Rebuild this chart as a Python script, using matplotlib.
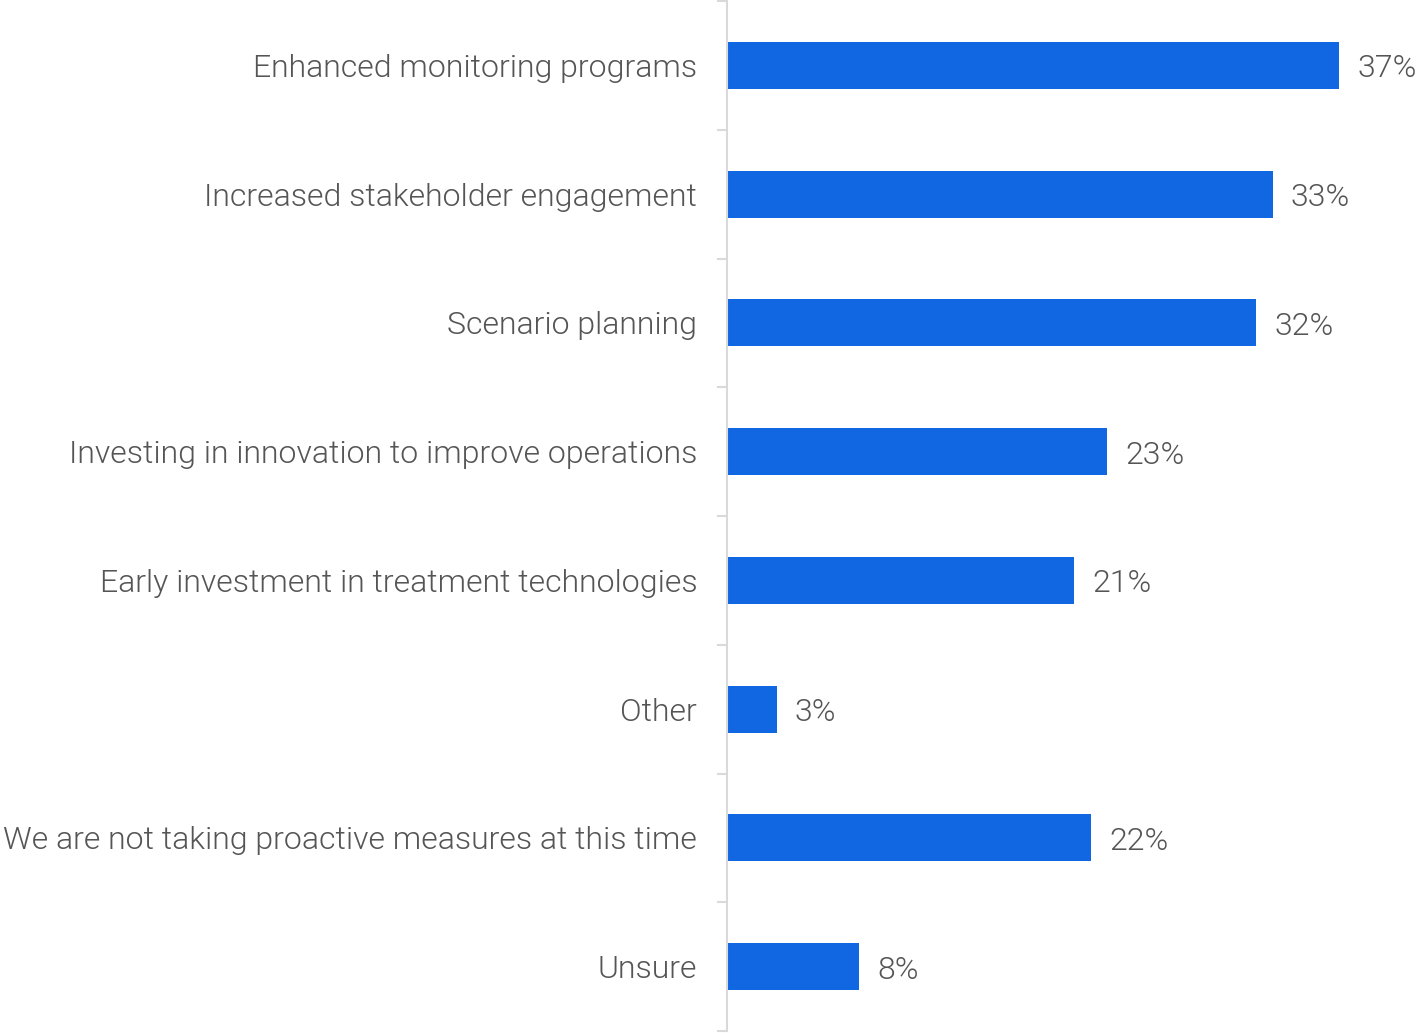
import numpy as np
import matplotlib
matplotlib.use('Agg')
import matplotlib.pyplot as plt

categories = ["Enhanced monitoring programs",
              "Increased stakeholder engagement",
              "Scenario planning",
              "Investing in innovation to improve operations",
              "Early investment in treatment technologies",
              "Other",
              "We are not taking proactive measures at this time",
              "Unsure"]
values = [37, 33, 32, 23, 21, 3, 22, 8]

bar_color = "#1166e2"
text_color = "#555555"
grid_color = "#d9d9d9"

plt.rcParams['font.family'] = ['Roboto', 'DejaVu Sans']

fig = plt.figure(figsize=(14.2, 10.33), dpi=100)
ax = fig.add_axes([727 / 1420, 2 / 1033, (1420 - 727) / 1420, 1030 / 1033])

y = np.arange(len(categories))
bars = ax.barh(y, values, height=0.365, color=bar_color)

ax.set_ylim(len(categories) - 0.5, -0.5)
ax.set_xlim(0, 41.9)

ax.set_yticks(y)
ax.set_yticklabels(categories, fontsize=23, fontweight=300, color=text_color)
ax.tick_params(axis='y', which='major', length=0, pad=21.5)
ax.set_yticks(np.arange(len(categories) + 1) - 0.5, minor=True)
ax.tick_params(axis='y', which='minor', length=7.2, width=1.5, color=grid_color)
ax.set_xticks([])

for side in ["top", "right", "bottom"]:
    ax.spines[side].set_visible(False)
ax.spines["left"].set_color(grid_color)
ax.spines["left"].set_linewidth(1.5)

# value labels, baseline a bit below the bar centre
for yi, v in zip(y, values):
    ax.annotate(f"{v}%", xy=(v, yi), xytext=(13, -8.6), textcoords="offset points",
                ha="left", va="baseline", fontsize=23, fontweight=300, color=text_color)

plt.savefig("out.png", dpi=100)
